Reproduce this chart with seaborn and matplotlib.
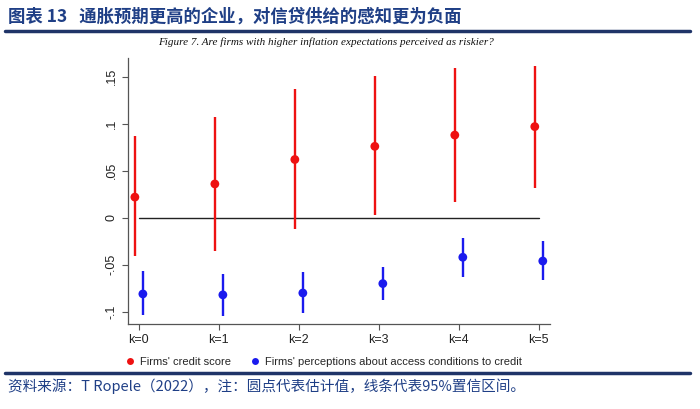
import numpy as np
import pandas as pd
import matplotlib
matplotlib.use("Agg")
import matplotlib.pyplot as plt
import seaborn as sns
from matplotlib.lines import Line2D

# ---- data ----
k_labels = ["k=0", "k=1", "k=2", "k=3", "k=4", "k=5"]
k_pos = [0, 1, 2, 3, 4, 5]

credit_est = [0.022, 0.036, 0.062, 0.076, 0.088, 0.097]
credit_lo = [-0.041, -0.035, -0.012, 0.003, 0.017, 0.032]
credit_hi = [0.087, 0.107, 0.137, 0.151, 0.159, 0.162]

percep_est = [-0.081, -0.082, -0.080, -0.070, -0.042, -0.046]
percep_lo = [-0.103, -0.104, -0.101, -0.087, -0.063, -0.066]
percep_hi = [-0.057, -0.060, -0.058, -0.052, -0.022, -0.025]

series_names = ["Firms' credit score", "Firms' perceptions about access conditions to credit"]
y_ticks = [-0.1, -0.05, 0, 0.05, 0.1, 0.15]
y_tick_labels = ["-.1", "-.05", "0", ".05", ".1", ".15"]

title_text = "图表 13   通胀预期更高的企业，对信贷供给的感知更为负面"
subtitle_text = "Figure 7. Are firms with higher inflation expectations perceived as riskier?"
source_text = "资料来源：T Ropele（2022），注：圆点代表估计值，线条代表95%置信区间。"

# ---- build long table ----
df = pd.DataFrame({
    "k": k_pos * 2,
    "est": credit_est + percep_est,
    "lo": credit_lo + percep_lo,
    "hi": credit_hi + percep_hi,
    "series": [series_names[0]] * 6 + [series_names[1]] * 6,
})
offsets = {series_names[0]: -0.05, series_names[1]: 0.05}
df["x"] = df["k"] + df["series"].map(offsets)

colors = {series_names[0]: "#ee1111", series_names[1]: "#1a1aee"}

sns.set_theme(style="white")
plt.rcParams["font.family"] = ["Liberation Sans", "DejaVu Sans", "Noto Sans CJK SC"]

fig = plt.figure(figsize=(7.0, 4.09), dpi=100)
ax = fig.add_axes([0.1824, 0.2078, 0.6033, 0.6504])

for name in series_names:
    sub = df[df["series"] == name]
    ax.vlines(sub["x"], sub["lo"], sub["hi"], color=colors[name], lw=1.7, zorder=2)

sns.scatterplot(data=df, x="x", y="est", hue="series", palette=colors,
                s=40, edgecolor="none", legend=False, ax=ax, zorder=3)

ax.plot([k_pos[0], k_pos[-1]], [0, 0], color="#222222", lw=1.0, zorder=1)

ax.set_xlim(-0.14, 5.14)
ax.set_ylim(-0.113, 0.17)
ax.set_xticks(k_pos)
ax.set_xticklabels(k_labels, fontsize=9, color="#222222")
ax.set_yticks(y_ticks)
ax.set_yticklabels(y_tick_labels, rotation=90, va="center", fontsize=9, color="#222222")
ax.set_xlabel("")
ax.set_ylabel("")
for s in ["top", "right"]:
    ax.spines[s].set_visible(False)
for s in ["left", "bottom"]:
    ax.spines[s].set_color("#555555")
    ax.spines[s].set_linewidth(0.9)
ax.tick_params(axis="both", which="major", length=4, width=0.8, color="#555555",
               direction="out", left=True, bottom=True, pad=3)
ax.grid(False)

handles = [Line2D([0], [0], marker="o", color="none", markerfacecolor=colors[n],
                  markeredgecolor="none", markersize=5) for n in series_names]
fig.legend(handles, series_names, loc="center", bbox_to_anchor=(323 / 700, 1 - 362 / 409),
           ncol=2, frameon=False, fontsize=8, handletextpad=0.4, columnspacing=1.6,
           handlelength=1.0)

# header / footer
fig.text(8 / 700, 1 - 17 / 409, title_text, fontsize=12.5, fontweight="bold",
         color="#1f3f86", va="center", ha="left",
         family=["Noto Sans CJK SC", "DejaVu Sans"])
fig.add_artist(Line2D([5 / 700, 690 / 700], [1 - 31 / 409] * 2, color="#1f3468", lw=2.5))
fig.text(326 / 700, 1 - 42 / 409, subtitle_text, fontsize=8, style="italic",
         family=["Liberation Serif"], ha="center", va="center", color="#111111")
fig.add_artist(Line2D([5 / 700, 690 / 700], [1 - 373 / 409] * 2, color="#1f3468", lw=2.5))
fig.text(8 / 700, 1 - 386 / 409, source_text, fontsize=10.5, style="italic",
         color="#1f3f86", va="center", ha="left",
         family=["Noto Sans CJK SC", "Liberation Serif"])

fig.savefig("out.png", dpi=100)
